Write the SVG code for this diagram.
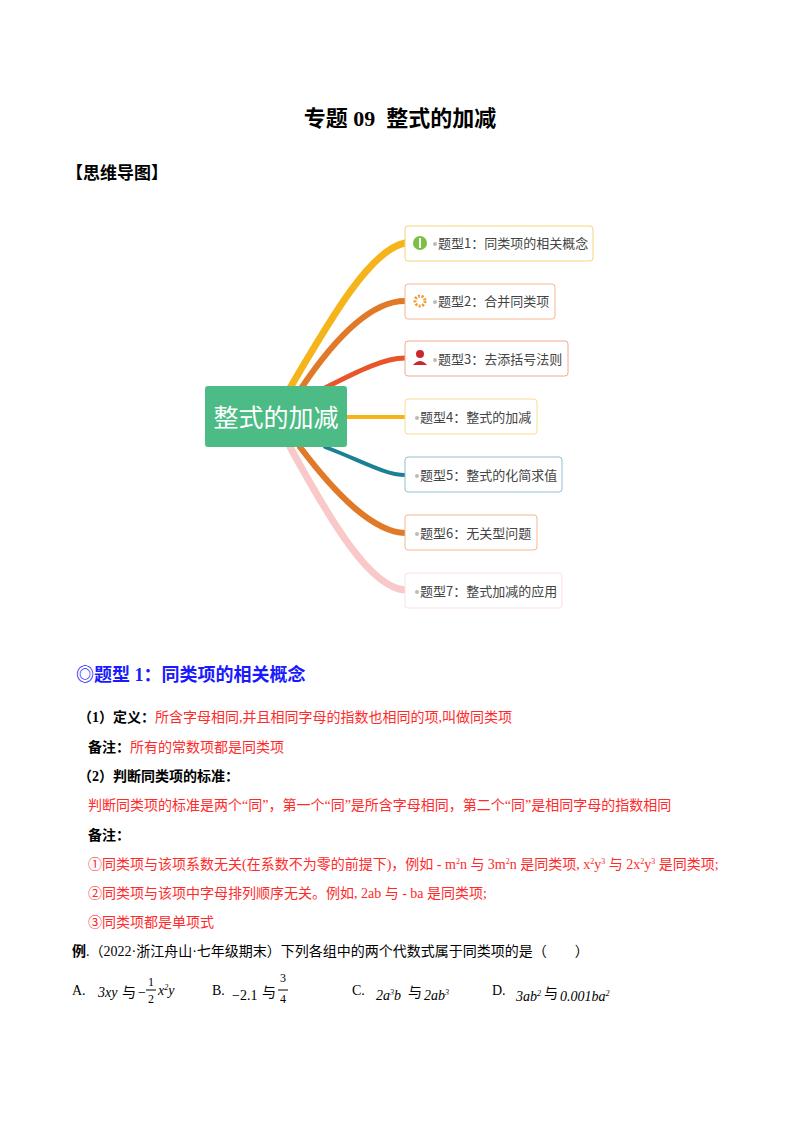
<svg xmlns="http://www.w3.org/2000/svg" width="800" height="1132" viewBox="0 0 800 1132">
<style>
text{font-family:"Liberation Serif","Noto Sans CJK SC",serif;}
.r{fill:#ff2a2a;font-size:14px;}
.b{fill:#000;font-size:14px;}
.bb{font-weight:bold;}
.nt{font-family:"Noto Sans CJK SC",sans-serif;font-size:13px;fill:#444;}
.dot{fill:#bbb;}
.br{fill:none;stroke-linecap:round;}
</style>
<rect width="800" height="1132" fill="#fff"/>
<text x="400" y="126" text-anchor="middle" font-size="22" font-weight="bold" xml:space="preserve">专题 09  整式的加减</text>
<text x="66" y="179" font-size="17" font-weight="bold">【思维导图】</text>
<g id="connectors">
<path class="br" d="M290 388 C330 320 370 250 405 243" stroke="#f5b51a" stroke-width="7"/>
<path class="br" d="M300 390 C340 330 375 301 405 301" stroke="#e07a28" stroke-width="6"/>
<path class="br" d="M325 388 C360 370 385 358 405 358" stroke="#e8552a" stroke-width="5"/>
<path class="br" d="M347 417 L405 417" stroke="#f5b51a" stroke-width="4"/>
<path class="br" d="M325 447 C360 460 385 475 405 475" stroke="#1c7f94" stroke-width="4"/>
<path class="br" d="M300 447 C340 500 375 532 405 533" stroke="#e07a28" stroke-width="6"/>
<path class="br" d="M290 447 C330 520 370 588 405 590" stroke="#f9c9c9" stroke-width="7"/>
</g>
<g id="center"><rect x="205" y="386" width="142" height="61" rx="3" fill="#4dbb85"/>
<text x="276" y="427" text-anchor="middle" font-family="Noto Sans CJK SC,sans-serif" font-size="25" fill="#fff">整式的加减</text></g>
<g id="n1"><rect x="405" y="226" width="188" height="35" rx="3" fill="#fff" stroke="#f5d47a"/>
<circle cx="420" cy="243" r="7" fill="#7bc043"/><rect x="419" y="238" width="2" height="10" fill="#fff"/>
<circle class="dot" cx="435" cy="244" r="2"/><text class="nt" x="438" y="248">题型1：同类项的相关概念</text></g>
<g id="n2"><rect x="405" y="284" width="150" height="35" rx="3" fill="#fff" stroke="#f3b790"/>
<circle cx="420" cy="301" r="5" fill="none" stroke="#f29a2e" stroke-width="3" stroke-dasharray="2 1.5"/>
<circle class="dot" cx="435" cy="302" r="2"/><text class="nt" x="438" y="306">题型2：合并同类项</text></g>
<g id="n3"><rect x="405" y="341" width="163" height="35" rx="3" fill="#fff" stroke="#f3a890"/>
<circle cx="420" cy="354" r="4" fill="#c8282e"/><path d="M413 365 Q420 357 427 365 Z" fill="#c8282e"/>
<circle class="dot" cx="435" cy="360" r="2"/><text class="nt" x="438" y="364">题型3：去添括号法则</text></g>
<g id="n4"><rect x="405" y="399" width="132" height="35" rx="3" fill="#fff" stroke="#f8dc90"/>
<circle class="dot" cx="417" cy="418" r="2"/><text class="nt" x="420" y="422">题型4：整式的加减</text></g>
<g id="n5"><rect x="405" y="457" width="157" height="35" rx="3" fill="#fff" stroke="#8fbfd0"/>
<circle class="dot" cx="417" cy="476" r="2"/><text class="nt" x="420" y="480">题型5：整式的化简求值</text></g>
<g id="n6"><rect x="405" y="515" width="132" height="35" rx="3" fill="#fff" stroke="#f3b790"/>
<circle class="dot" cx="417" cy="534" r="2"/><text class="nt" x="420" y="538">题型6：无关型问题</text></g>
<g id="n7"><rect x="405" y="573" width="157" height="35" rx="3" fill="#fff" stroke="#fbe0e0"/>
<circle class="dot" cx="417" cy="592" r="2"/><text class="nt" x="420" y="596">题型7：整式加减的应用</text></g>
<text x="76" y="681" font-size="18" font-weight="bold" fill="#1a1aff">◎题型 1：同类项的相关概念</text>
<text x="78" y="722" class="b"><tspan class="bb">（1）定义：</tspan><tspan fill="#ff2a2a">所含字母相同,并且相同字母的指数也相同的项,叫做同类项</tspan></text>
<text x="88" y="752" class="b"><tspan class="bb">备注：</tspan><tspan fill="#ff2a2a">所有的常数项都是同类项</tspan></text>
<text x="78" y="781" class="b bb">（2）判断同类项的标准：</text>
<text x="88" y="810" class="r">判断同类项的标准是两个“同”，第一个“同”是所含字母相同，第二个“同”是相同字母的指数相同</text>
<text x="88" y="840" class="b bb">备注：</text>
<text x="88" y="869" class="r">①同类项与该项系数无关(在系数不为零的前提下)，例如 - m<tspan font-size="8" dy="-5">2</tspan><tspan dy="5">n 与 3m</tspan><tspan font-size="8" dy="-5">2</tspan><tspan dy="5">n 是同类项, x</tspan><tspan font-size="8" dy="-5">2</tspan><tspan dy="5">y</tspan><tspan font-size="8" dy="-5">3</tspan><tspan dy="5"> 与 2x</tspan><tspan font-size="8" dy="-5">2</tspan><tspan dy="5">y</tspan><tspan font-size="8" dy="-5">3</tspan><tspan dy="5"> 是同类项;</tspan></text>
<text x="88" y="898" class="r">②同类项与该项中字母排列顺序无关。例如, 2ab 与 - ba 是同类项;</text>
<text x="88" y="927" class="r">③同类项都是单项式</text>
<text x="72" y="956" class="b"><tspan class="bb">例</tspan>.（2022·浙江舟山·七年级期末）下列各组中的两个代数式属于同类项的是（　　）</text>
<g class="b" font-size="14">
<text x="72" y="995">A.</text>
<text x="98" y="997" font-style="italic">3xy</text><text x="122" y="997">与</text>
<text x="138" y="997">−</text><text x="148" y="986" font-size="12">1</text><line x1="146" y1="990" x2="156" y2="990" stroke="#000"/><text x="148" y="1003" font-size="12">2</text>
<text x="158" y="995" font-style="italic">x<tspan font-size="8" dy="-5">2</tspan><tspan dy="5">y</tspan></text>
<text x="212" y="995">B.</text>
<text x="232" y="1000">−2.1</text><text x="262" y="997">与</text>
<text x="280" y="982" font-size="12">3</text><line x1="278" y1="990" x2="288" y2="990" stroke="#000"/><text x="280" y="1003" font-size="12">4</text>
<text x="352" y="995">C.</text>
<text x="376" y="1000" font-style="italic">2a<tspan font-size="8" dy="-5">3</tspan><tspan dy="5">b</tspan></text><text x="408" y="997">与</text>
<text x="424" y="1000" font-style="italic">2ab<tspan font-size="8" dy="-5">3</tspan></text>
<text x="492" y="995">D.</text>
<text x="516" y="1001" font-style="italic">3ab<tspan font-size="8" dy="-5">2</tspan></text><text x="544" y="998">与</text>
<text x="560" y="1001" font-style="italic">0.001ba<tspan font-size="8" dy="-5">2</tspan></text>
</g>
</svg>
